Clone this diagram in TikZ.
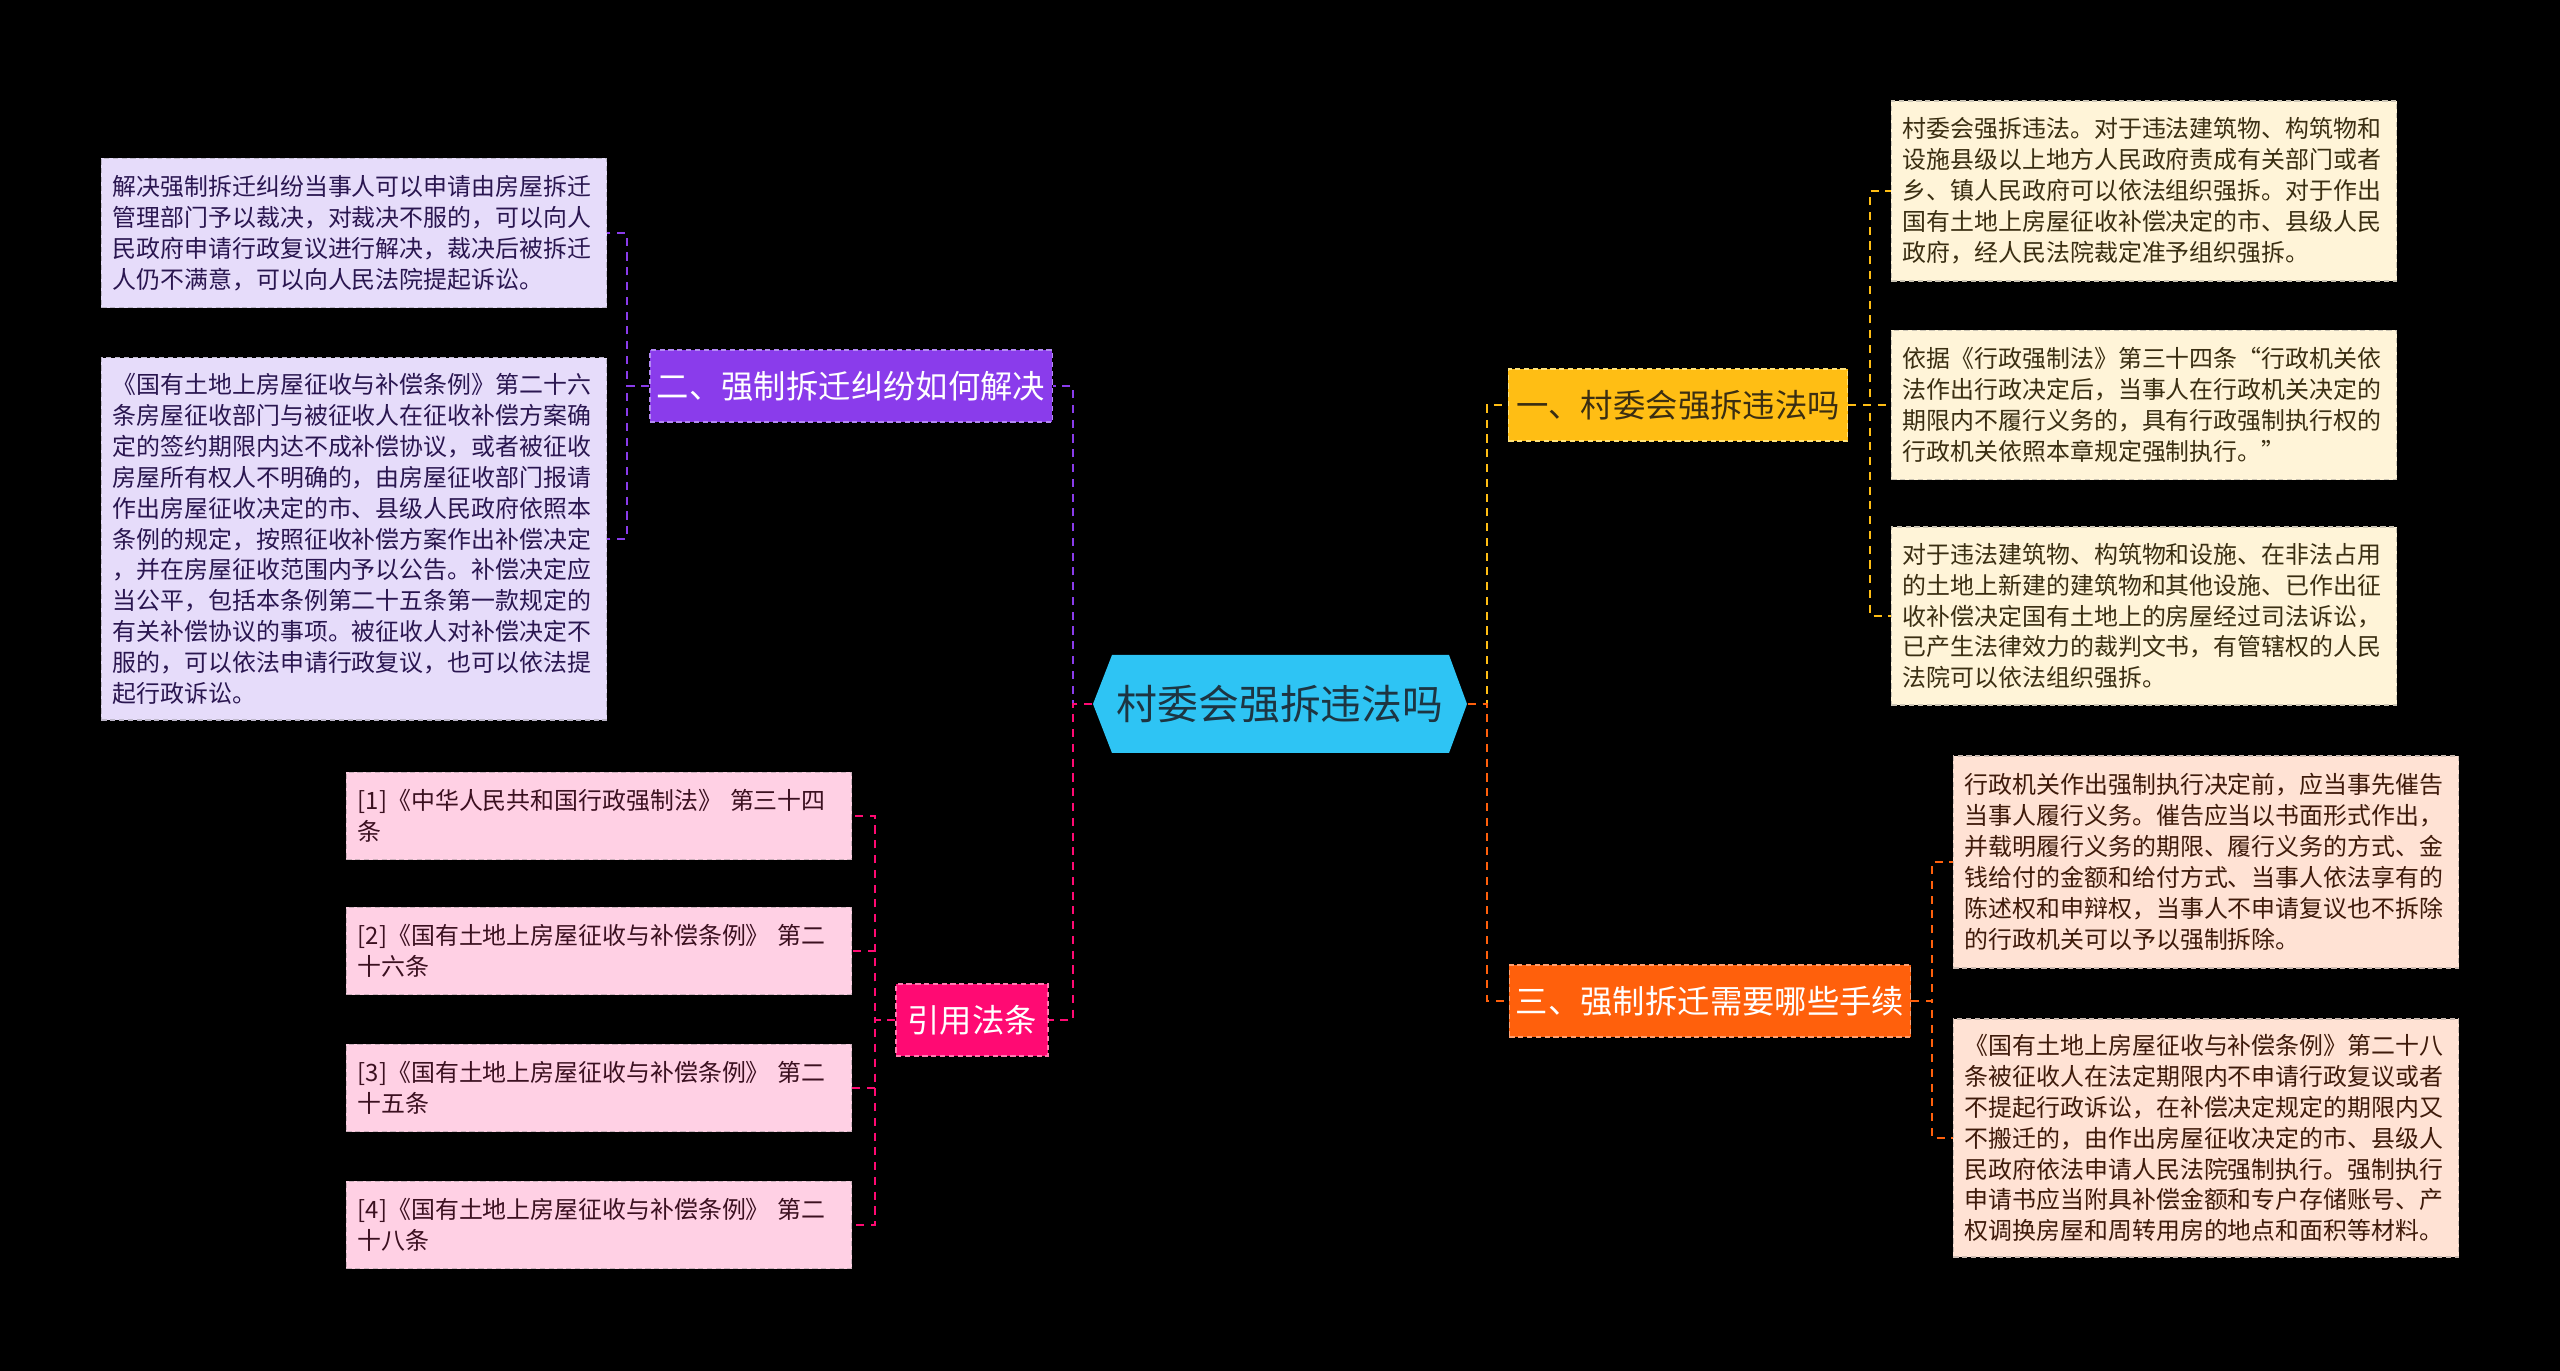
\documentclass[tikz,border=0pt]{standalone}
\usepackage{fontspec}
\setmainfont{Noto Sans CJK SC}

\definecolor{rootC}{HTML}{2EC4F4}
\definecolor{rootT}{HTML}{1D3542}
\definecolor{purpC}{HTML}{8A3CEB}
\definecolor{purpB}{HTML}{B48AF4}
\definecolor{purpL}{HTML}{E6DCFA}
\definecolor{purpT}{HTML}{2A1650}
\definecolor{pinkC}{HTML}{FF0A73}
\definecolor{pinkB}{HTML}{FF7AB0}
\definecolor{pinkL}{HTML}{FFD0E4}
\definecolor{pinkT}{HTML}{3B1020}
\definecolor{yelC}{HTML}{FFBE14}
\definecolor{yelB}{HTML}{FFE27A}
\definecolor{yelL}{HTML}{FFF4D8}
\definecolor{yelT}{HTML}{3A2E12}
\definecolor{oraC}{HTML}{FF600C}
\definecolor{oraB}{HTML}{FFA070}
\definecolor{oraL}{HTML}{FFE2D4}
\definecolor{oraT}{HTML}{3E1A0A}

\tikzset{
  link/.style={line width=0.7pt, dash pattern=on 2.3pt off 1.9pt},
  rootbox/.style={rectangle, minimum width=3.74cm, minimum height=0.99cm,
    inner sep=0pt, text=rootT, font=\fontsize{11.6pt}{14pt}\selectfont},
  branch/.style={rectangle, minimum height=0.72cm, inner sep=0pt,
    font=\fontsize{9.2pt}{11pt}\selectfont, draw, line width=0.35pt,
    dash pattern=on 1.5pt off 1pt},
  leaf/.style={rectangle, text width=4.82cm, inner xsep=0.115cm, inner ysep=0pt,
    align=left, font=\fontsize{6.8pt}{8.8pt}\selectfont, draw, line width=0.35pt,
    dash pattern=on 1.5pt off 1pt},
  leafP/.style={leaf, fill=purpL, draw=purpL!60!gray, text=purpT},
  leafR/.style={leaf, fill=pinkL, draw=pinkL!60!gray, text=pinkT},
  leafY/.style={leaf, fill=yelL, draw=yelL!60!gray, text=yelT},
  leafO/.style={leaf, fill=oraL, draw=oraL!60!gray, text=oraT},
}

\begin{document}
\begin{tikzpicture}[x=0.01cm, y=-0.01cm]
\fill[black] (0,0) rectangle (2560,1371);
\useasboundingbox (0,0) rectangle (2560,1371);

% centre
\fill[rootC] (1093,704) -- (1112,655) -- (1449,655) -- (1467,704)
  -- (1449,753) -- (1112,753) -- cycle;
\node[rootbox] (root) at (1280,704) {村委会强拆违法吗};

% branches
\node[branch, fill=purpC, draw=purpB, text=white, minimum width=4.02cm] (b2) at (851,386) {二、强制拆迁纠纷如何解决};
\node[branch, fill=pinkC, draw=pinkB, text=white, minimum width=1.52cm] (bref) at (972,1020) {引用法条};
\node[branch, fill=yelC, draw=yelB, text=yelT, minimum width=3.39cm] (b1) at (1678,405) {一、村委会强拆违法吗};
\node[branch, fill=oraC, draw=oraB, text=white, minimum width=4.01cm] (b3) at (1710,1001) {三、强制拆迁需要哪些手续};

% left leaves
\node[leafP, minimum height=1.49cm] (p1) at (354,233) {解决强制拆迁纠纷当事人可以申请由房屋拆迁\\管理部门予以裁决，对裁决不服的，可以向人\\民政府申请行政复议进行解决，裁决后被拆迁\\人仍不满意，可以向人民法院提起诉讼。};
\node[leafP, minimum height=3.62cm] (p2) at (354,539) {《国有土地上房屋征收与补偿条例》第二十六\\条房屋征收部门与被征收人在征收补偿方案确\\定的签约期限内达不成补偿协议，或者被征收\\房屋所有权人不明确的，由房屋征收部门报请\\作出房屋征收决定的市、县级人民政府依照本\\条例的规定，按照征收补偿方案作出补偿决定\\，并在房屋征收范围内予以公告。补偿决定应\\当公平，包括本条例第二十五条第一款规定的\\有关补偿协议的事项。被征收人对补偿决定不\\服的，可以依法申请行政复议，也可以依法提\\起行政诉讼。};

\node[leafR, minimum height=0.87cm] (r1) at (599,816) {[1]《中华人民共和国行政强制法》 第三十四\\条};
\node[leafR, minimum height=0.87cm] (r2) at (599,951) {[2]《国有土地上房屋征收与补偿条例》 第二\\十六条};
\node[leafR, minimum height=0.87cm] (r3) at (599,1088) {[3]《国有土地上房屋征收与补偿条例》 第二\\十五条};
\node[leafR, minimum height=0.87cm] (r4) at (599,1225) {[4]《国有土地上房屋征收与补偿条例》 第二\\十八条};

% right leaves
\node[leafY, minimum height=1.80cm] (y1) at (2144,191) {村委会强拆违法。对于违法建筑物、构筑物和\\设施县级以上地方人民政府责成有关部门或者\\乡、镇人民政府可以依法组织强拆。对于作出\\国有土地上房屋征收补偿决定的市、县级人民\\政府，经人民法院裁定准予组织强拆。};
\node[leafY, minimum height=1.49cm] (y2) at (2144,405) {依据《行政强制法》第三十四条“行政机关依\\法作出行政决定后，当事人在行政机关决定的\\期限内不履行义务的，具有行政强制执行权的\\行政机关依照本章规定强制执行。”};
\node[leafY, minimum height=1.78cm] (y3) at (2144,616) {对于违法建筑物、构筑物和设施、在非法占用\\的土地上新建的建筑物和其他设施、已作出征\\收补偿决定国有土地上的房屋经过司法诉讼，\\已产生法律效力的裁判文书，有管辖权的人民\\法院可以依法组织强拆。};

\node[leafO, minimum height=2.12cm] (o1) at (2206,862) {行政机关作出强制执行决定前，应当事先催告\\当事人履行义务。催告应当以书面形式作出，\\并载明履行义务的期限、履行义务的方式、金\\钱给付的金额和给付方式、当事人依法享有的\\陈述权和申辩权，当事人不申请复议也不拆除\\的行政机关可以予以强制拆除。};
\node[leafO, minimum height=2.38cm] (o2) at (2206,1138) {《国有土地上房屋征收与补偿条例》第二十八\\条被征收人在法定期限内不申请行政复议或者\\不提起行政诉讼，在补偿决定规定的期限内又\\不搬迁的，由作出房屋征收决定的市、县级人\\民政府依法申请人民法院强制执行。强制执行\\申请书应当附具补偿金额和专户存储账号、产\\权调换房屋和周转用房的地点和面积等材料。};

% junctions
\coordinate (jl) at (1073,704);
\coordinate (jr) at (1487,704);
\coordinate (jp) at (627,386);
\coordinate (jq) at (875,1020);
\coordinate (jy) at (1870,405);
\coordinate (jo) at (1932,1001);

% connectors
\draw[link, purpC] (root.west) -- (jl) |- (b2.east);
\draw[link, pinkC] (root.west) -- (jl) |- (bref.east);
\draw[link, yelC] (root.east) -- (jr) |- (b1.west);
\draw[link, oraC] (root.east) -- (jr) |- (b3.west);

\foreach \n in {p1,p2}
  \draw[link, purpC] (b2.west) -- (jp) |- (\n.east);
\foreach \n in {r1,r2,r3,r4}
  \draw[link, pinkC] (bref.west) -- (jq) |- (\n.east);
\foreach \n in {y1,y2,y3}
  \draw[link, yelC] (b1.east) -- (jy) |- (\n.west);
\foreach \n in {o1,o2}
  \draw[link, oraC] (b3.east) -- (jo) |- (\n.west);
\end{tikzpicture}
\end{document}
